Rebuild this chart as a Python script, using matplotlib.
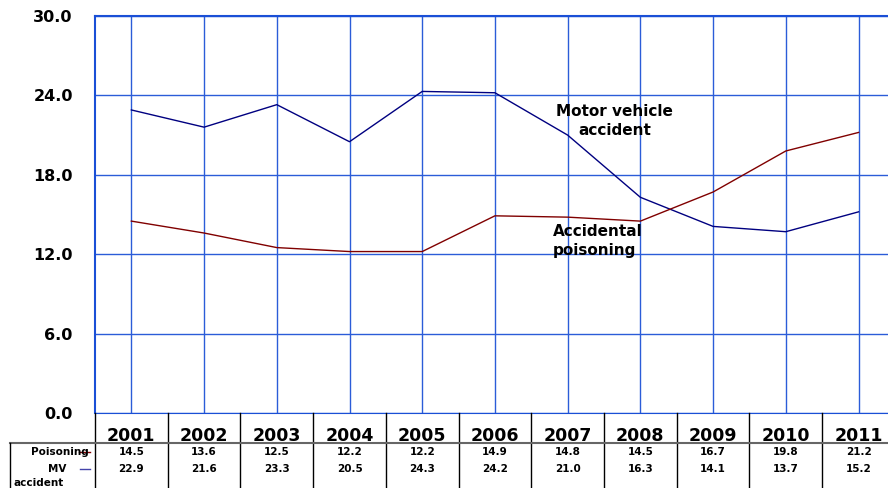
import matplotlib
matplotlib.use('Agg')
import matplotlib.pyplot as plt
from matplotlib.lines import Line2D
from matplotlib.transforms import blended_transform_factory

# data
years = ['2001', '2002', '2003', '2004', '2005', '2006',
         '2007', '2008', '2009', '2010', '2011']
poisoning = [14.5, 13.6, 12.5, 12.2, 12.2, 14.9, 14.8, 14.5, 16.7, 19.8, 21.2]
mv_accident = [22.9, 21.6, 23.3, 20.5, 24.3, 24.2, 21.0, 16.3, 14.1, 13.7, 15.2]
yticks = [0, 6, 12, 18, 24, 30]

red = '#800000'
blue = '#000080'
grid_c = '#2b5cd8'

plt.rcParams['font.family'] = 'DejaVu Sans'
fig = plt.figure(figsize=(8.88, 4.88), dpi=100)
W, H = 888.0, 488.0
ax = fig.add_axes([95 / W, (H - 413) / H, (W - 95) / W, 397 / H])

x = list(range(len(years)))
ax.plot(x, mv_accident, color=blue, lw=1.0, zorder=3)
ax.plot(x, poisoning, color=red, lw=1.0, zorder=3)

ax.set_xlim(-0.5, (W - 131) / 72.75)
ax.set_ylim(0, 30)
ax.set_yticks(yticks)
ax.set_yticklabels(['%.1f' % v for v in yticks], fontsize=11.5, fontweight='bold')
ax.tick_params(axis='y', length=0, pad=16)
ax.set_xticks(x)
ax.tick_params(axis='x', length=0, labelbottom=False)
ax.grid(True, color=grid_c, lw=1.0)
ax.set_axisbelow(True)
for s in ['top', 'left']:
    ax.spines[s].set_color('#1a4fd6')
    ax.spines[s].set_linewidth(1.5)
ax.spines['right'].set_visible(False)
ax.spines['bottom'].set_color('#1a4fd6')

ax.text(6.65, 22.05, 'Motor vehicle\naccident', ha='center', va='center',
        fontsize=11, fontweight='bold', linespacing=1.3)
ax.text(5.8, 13.0, 'Accidental\npoisoning', ha='left', va='center',
        fontsize=11, fontweight='bold', linespacing=1.3)

# data table under the axes
tr = blended_transform_factory(ax.transData, fig.transFigure)
def fy(py):
    return 1 - py / H

for i in range(len(years) + 1):
    fig.add_artist(Line2D([i - 0.5, i - 0.5], [fy(413), fy(488)], transform=tr,
                          color='black', lw=1.0))
fig.add_artist(Line2D([10 / W, 1], [fy(443), fy(443)], color='#666666', lw=1.5))
fig.add_artist(Line2D([10 / W, 10 / W], [fy(443), fy(488)], color='black', lw=1.0))

for i, yr in enumerate(years):
    fig.text(i, fy(436), yr, transform=tr, ha='center', va='center',
             fontsize=12.5, fontweight='bold')
    fig.text(i, fy(452), '%.1f' % poisoning[i], transform=tr, ha='center',
             va='center', fontsize=7.5, fontweight='bold')
    fig.text(i, fy(469), '%.1f' % mv_accident[i], transform=tr, ha='center',
             va='center', fontsize=7.5, fontweight='bold')

fig.text(89 / W, fy(452), 'Poisoning', ha='right', va='center',
         fontsize=7.5, fontweight='bold')
fig.add_artist(Line2D([79 / W, 90 / W], [fy(452), fy(452)], color=red, lw=1.0))
fig.text(66 / W, fy(469), 'MV', ha='right', va='center',
         fontsize=7.5, fontweight='bold')
fig.add_artist(Line2D([80 / W, 90 / W], [fy(469), fy(469)], color='#4444aa', lw=1.0))
fig.text(13 / W, fy(483), 'accident', ha='left', va='center',
         fontsize=7.5, fontweight='bold')

fig.savefig('out.png', dpi=100)
